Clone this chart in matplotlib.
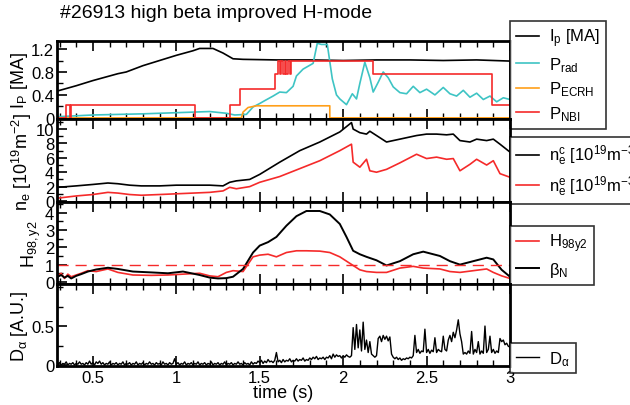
import matplotlib
matplotlib.use("Agg")
import matplotlib.pyplot as plt
import numpy as np
from matplotlib.ticker import MultipleLocator, FixedLocator

plt.rcParams['font.family'] = ['Liberation Sans', 'DejaVu Sans']
plt.rcParams['mathtext.fontset'] = 'custom'
plt.rcParams['mathtext.rm'] = 'Liberation Sans'
plt.rcParams['mathtext.it'] = 'Liberation Sans:italic'
plt.rcParams['mathtext.default'] = 'regular'

# --- plasma current and heating powers ---
t_ip = [0.29, 0.40, 0.50, 0.60, 0.65, 0.70, 0.80, 0.90, 1.00, 1.10, 1.14, 1.22, 1.28, 1.34,
        1.40, 1.60, 1.80, 2.00, 2.20, 2.40, 2.60, 2.80, 2.90, 3.00]
ip = [0.47, 0.56, 0.65, 0.73, 0.77, 0.80, 0.91, 1.00, 1.09, 1.17, 1.21, 1.21, 1.13, 1.03,
      1.02, 1.01, 1.01, 1.00, 1.01, 1.01, 1.00, 1.01, 1.00, 0.99]

t_prad = [0.29, 0.50, 0.80, 1.00, 1.20, 1.30, 1.35, 1.42, 1.46, 1.50, 1.53, 1.58, 1.62, 1.66,
          1.70, 1.72, 1.76, 1.79, 1.82, 1.845, 1.87, 1.905, 1.935, 1.96, 1.98, 2.02, 2.055,
          2.08, 2.10, 2.13, 2.16, 2.18, 2.21, 2.24, 2.27, 2.30, 2.34, 2.38, 2.42, 2.46, 2.50,
          2.55, 2.60, 2.64, 2.68, 2.72, 2.76, 2.80, 2.84, 2.88, 2.92, 2.96, 3.00]
prad = [0.02, 0.05, 0.07, 0.09, 0.11, 0.08, 0.05, 0.06, 0.19, 0.25, 0.30, 0.38, 0.45, 0.44,
        0.55, 0.73, 0.85, 0.90, 0.95, 1.30, 1.28, 1.28, 0.68, 0.40, 0.33, 0.23, 0.42, 0.33,
        0.60, 0.97, 0.70, 0.45, 0.62, 0.80, 0.70, 0.54, 0.44, 0.42, 0.55, 0.44, 0.50, 0.40,
        0.53, 0.42, 0.38, 0.48, 0.36, 0.43, 0.32, 0.38, 0.28, 0.35, 0.32]

t_ecrh = [0.29, 1.39, 1.40, 1.43, 1.48, 1.55, 1.92, 1.92, 3.00]
ecrh = [0.0, 0.0, 0.10, 0.18, 0.21, 0.21, 0.21, 0.0, 0.0]

t_nbi = [0.29, 0.34, 0.34, 0.36, 0.36, 0.37, 0.37, 1.11, 1.11, 1.32, 1.32, 1.38, 1.38, 1.59,
         1.59, 1.61, 1.61, 1.62, 1.62, 1.63, 1.63, 1.64, 1.64, 1.65, 1.65, 1.66, 1.66, 1.67,
         1.67, 1.68, 1.68, 1.69, 1.69, 1.70, 1.70, 2.18, 2.18, 2.89, 2.89, 3.00]
nbi = [0.0, 0.0, 0.22, 0.22, 0.0, 0.0, 0.22, 0.22, 0.0, 0.0, 0.22, 0.22, 0.50, 0.50,
       0.76, 0.76, 1.00, 1.00, 0.76, 0.76, 1.00, 1.00, 0.76, 0.76, 1.00, 1.00, 0.76, 0.76,
       1.00, 1.00, 0.76, 0.76, 1.00, 1.00, 1.00, 1.00, 0.76, 0.76, 0.22, 0.22]

# --- densities ---
t_ne = [0.29, 0.40, 0.50, 0.59, 0.65, 0.72, 0.79, 0.90, 1.00, 1.10, 1.20, 1.28, 1.32, 1.36,
        1.44, 1.50, 1.62, 1.74, 1.86, 1.98, 2.05, 2.06, 2.10, 2.14, 2.16, 2.20, 2.26, 2.34,
        2.44, 2.50, 2.56, 2.62, 2.66, 2.70, 2.76, 2.80, 2.86, 2.90, 2.94, 3.00]
ne_c = [1.9, 2.1, 2.3, 2.5, 2.4, 2.2, 2.1, 2.1, 2.2, 2.2, 2.2, 2.1, 2.6, 2.8,
        3.0, 3.7, 5.4, 7.0, 8.2, 9.6, 10.9, 10.0, 9.5, 9.3, 9.7, 9.1, 8.2, 8.6,
        9.1, 9.3, 9.3, 9.2, 9.3, 8.4, 8.2, 8.6, 8.4, 8.6, 7.9, 6.8]
ne_e = [0.4, 0.7, 0.9, 1.2, 1.1, 0.9, 0.8, 0.9, 1.0, 1.1, 1.2, 1.4, 1.9, 1.7,
        2.0, 2.6, 3.4, 4.5, 5.6, 7.0, 7.9, 5.4, 4.7, 5.8, 4.2, 4.0, 4.4, 5.3,
        6.5, 5.9, 6.1, 5.8, 5.9, 4.2, 5.1, 5.8, 5.0, 5.6, 3.8, 3.3]

# --- confinement ---
t_h = [0.29, 0.31, 0.33, 0.35, 0.37, 0.40, 0.43, 0.47, 0.52, 0.59, 0.65, 0.74, 0.85, 0.95,
       1.04, 1.14, 1.20, 1.25, 1.30, 1.34, 1.40, 1.46, 1.50, 1.55, 1.60, 1.66, 1.72, 1.78,
       1.86, 1.92, 1.98, 2.02, 2.06, 2.10, 2.14, 2.20, 2.26, 2.34, 2.42, 2.48, 2.58, 2.64,
       2.70, 2.78, 2.86, 2.90, 2.95, 3.00]
beta_n = [0.30, 0.40, 0.25, 0.35, 0.20, 0.35, 0.45, 0.60, 0.72, 0.82, 0.75, 0.60, 0.55, 0.50,
          0.60, 0.40, 0.25, 0.20, 0.22, 0.30, 0.75, 1.70, 2.10, 2.30, 2.60, 3.25, 3.80, 4.10,
          4.10, 3.90, 3.35, 2.60, 1.80, 1.60, 1.45, 1.25, 0.95, 1.20, 1.60, 1.75, 1.50, 1.20,
          1.00, 1.20, 1.40, 1.30, 0.70, 0.30]
h98 = [0.35, 0.50, 0.20, 0.45, 0.30, 0.40, 0.50, 0.65, 0.60, 0.75, 0.55, 0.40, 0.38, 0.40,
       0.45, 0.50, 0.35, 0.30, 0.55, 0.65, 0.60, 1.45, 1.55, 1.60, 1.45, 1.70, 1.80, 1.80,
       1.78, 1.70, 1.45, 1.20, 0.95, 0.70, 0.60, 0.55, 0.55, 0.80, 0.90, 0.80, 0.75, 0.60,
       0.55, 0.65, 0.75, 0.55, 0.35, 0.20]

# --- D-alpha, sampled every 10 ms from 0.29 s ---
d_alpha = [
    0.01, 0.03, 0.00, 0.02, 0.01, 0.04, 0.00, 0.02, 0.01, 0.03,
    0.00, 0.02, 0.01, 0.04, 0.01, 0.02, 0.00, 0.03, 0.01, 0.05,
    0.01, 0.03, 0.00, 0.04, 0.02, 0.05, 0.01, 0.03, 0.00, 0.02,
    0.01, 0.04, 0.00, 0.02, 0.01, 0.03, 0.00, 0.02, 0.01, 0.04,
    0.00, 0.02, 0.01, 0.03, 0.00, 0.02, 0.01, 0.04, 0.00, 0.02,
    0.01, 0.03, 0.00, 0.02, 0.01, 0.04, 0.01, 0.02, 0.00, 0.03,
    0.01, 0.02, 0.00, 0.04, 0.01, 0.02, 0.00, 0.03, 0.01, 0.02,
    0.08, 0.01, 0.03, 0.00, 0.02, 0.01, 0.04, 0.00, 0.02, 0.01,
    0.03, 0.00, 0.02, 0.01, 0.04, 0.00, 0.02, 0.01, 0.03, 0.00,
    0.02, 0.01, 0.04, 0.00, 0.02, 0.01, 0.03, 0.00, 0.02, 0.01,
    0.04, 0.00, 0.02, 0.01, 0.03, 0.00, 0.02, 0.01, 0.04, 0.01,
    0.02, 0.00, 0.03, 0.01, 0.02, 0.00, 0.04, 0.01, 0.03, 0.02,
    0.05, 0.03, 0.06, 0.02, 0.05, 0.03, 0.07, 0.04, 0.05, 0.03,
    0.06, 0.16, 0.04, 0.06, 0.03, 0.07, 0.04, 0.06, 0.05, 0.08,
    0.04, 0.06, 0.05, 0.08, 0.05, 0.07, 0.06, 0.09, 0.05, 0.07,
    0.06, 0.09, 0.07, 0.10, 0.08, 0.11, 0.07, 0.09, 0.08, 0.10,
    0.07, 0.10, 0.09, 0.12, 0.08, 0.14, 0.10, 0.13, 0.11, 0.12,
    0.09, 0.12, 0.10, 0.13, 0.11, 0.10, 0.12, 0.48, 0.20, 0.52,
    0.22, 0.45, 0.18, 0.55, 0.20, 0.32, 0.16, 0.30, 0.14, 0.12,
    0.10, 0.12, 0.34, 0.37, 0.30, 0.38, 0.33, 0.37, 0.31, 0.36,
    0.14, 0.10, 0.08, 0.10, 0.07, 0.09, 0.06, 0.08, 0.07, 0.09,
    0.08, 0.10, 0.09, 0.12, 0.38, 0.16, 0.20, 0.15, 0.18, 0.17,
    0.46, 0.16, 0.20, 0.15, 0.19, 0.17, 0.35, 0.16, 0.20, 0.18,
    0.17, 0.37, 0.20, 0.18, 0.32, 0.38, 0.30, 0.42, 0.35, 0.45,
    0.58, 0.40, 0.30, 0.14, 0.16, 0.14, 0.18, 0.15, 0.43, 0.14,
    0.20, 0.16, 0.30, 0.14, 0.18, 0.15, 0.50, 0.16, 0.20, 0.37,
    0.16, 0.20, 0.15, 0.18, 0.16, 0.34, 0.30, 0.32, 0.26, 0.28,
    0.24, 0.23]
t_da = 0.29 + 0.01 * np.arange(len(d_alpha))

RED = '#f52a2a'
CYAN = '#3ec4c4'
ORANGE = '#ff9f1a'

W, H = 630, 406
fig = plt.figure(figsize=(W / 100, H / 100), dpi=100)

left, right = 57, 510
rows = [(42, 120), (120, 203), (203, 285), (285, 367)]
axes = []
for top, bot in rows:
    ax = fig.add_axes([left / W, (H - bot) / H, (right - left) / W, (bot - top) / H])
    axes.append(ax)

for ax in axes:
    ax.set_xlim(0.285, 3.0)
    for s in ax.spines.values():
        s.set_linewidth(2.0)
    ax.xaxis.set_major_locator(MultipleLocator(0.5))
    ax.xaxis.set_minor_locator(MultipleLocator(0.1))
    ax.tick_params(axis='x', which='both', direction='in', top=True, bottom=True,
                   labelbottom=False)
    ax.tick_params(axis='both', which='major', length=7, width=1.2, labelsize=12)
    ax.tick_params(axis='both', which='minor', length=4, width=1.0)
    ax.tick_params(axis='y', which='both', direction='in', left=True, right=False, pad=2)

legend_kw = dict(loc='upper left', borderaxespad=0, frameon=True, fancybox=False,
                 edgecolor='black', fontsize=12, handlelength=1.4, handletextpad=0.6,
                 borderpad=0.35, labelspacing=0.35)

# panel 1: current and powers
ax = axes[0]
ax.plot(t_ip, ip, color='black', lw=1.2, label='I$_p$ [MA]')
ax.plot(t_prad, prad, color=CYAN, lw=1.2, label='P$_{rad}$')
ax.plot(t_ecrh, ecrh, color=ORANGE, lw=1.2, label='P$_{ECRH}$')
ax.plot(t_nbi, nbi, color=RED, lw=1.2, label='P$_{NBI}$')
ax.set_ylim(-0.02, 1.34)
ax.yaxis.set_major_locator(FixedLocator([0, 0.4, 0.8, 1.2]))
ax.yaxis.set_minor_locator(FixedLocator([0.2, 0.6, 1.0]))
ax.set_yticklabels(['0', '0.4', '0.8', '1.2'])
ax.set_ylabel('I$_P$ [MA]', fontsize=13, labelpad=1)
leg = ax.legend(bbox_to_anchor=(1.0, 1.26), **legend_kw)
leg.get_frame().set_linewidth(1.2)

# panel 2: densities
ax = axes[1]
ax.plot(t_ne, ne_c, color='black', lw=1.2, label='n$_e^c$ [10$^{19}$m$^{-3}$]')
ax.plot(t_ne, ne_e, color=RED, lw=1.2, label='n$_e^e$ [10$^{19}$m$^{-3}$]')
ax.set_ylim(-0.14, 11.4)
ax.yaxis.set_major_locator(MultipleLocator(2))
ax.yaxis.set_minor_locator(MultipleLocator(1))
ax.set_ylabel('n$_e$ [10$^{19}$m$^{-2}$]', fontsize=13, labelpad=1)
leg = ax.legend(bbox_to_anchor=(1.0, 0.78), **legend_kw)
leg.get_frame().set_linewidth(1.2)

# panel 3: H factor and beta_N
ax = axes[2]
ax.plot(t_h, h98, color=RED, lw=1.2, label='H$_{98y2}$')
ax.plot(t_h, beta_n, color='black', lw=1.4, label=r'$\beta_N$')
ax.axhline(1.0, color=RED, lw=1.0, ls=(0, (8, 5)))
ax.set_ylim(-0.12, 4.62)
ax.yaxis.set_major_locator(MultipleLocator(1))
ax.yaxis.set_minor_locator(MultipleLocator(0.5))
ax.set_ylabel('H$_{98,y2}$', fontsize=13, labelpad=1)
leg = ax.legend(bbox_to_anchor=(1.0, 0.71), **legend_kw)
leg.get_frame().set_linewidth(1.2)

# panel 4: D-alpha
ax = axes[3]
ax.plot(t_da, d_alpha, color='black', lw=1.0, label=r'D$_\alpha$')
ax.set_ylim(-0.013, 1.04)
ax.yaxis.set_major_locator(FixedLocator([0, 0.5]))
ax.yaxis.set_minor_locator(FixedLocator([0.25, 0.75, 1.0]))
ax.set_yticklabels(['0', '0.5'])
ax.set_ylabel(r'D$_\alpha$ [A.U.]', fontsize=13, labelpad=1)
ax.tick_params(axis='x', labelbottom=True, pad=3)
ax.set_xticks([0.5, 1, 1.5, 2, 2.5, 3])
ax.set_xticklabels(['0.5', '1', '1.5', '2', '2.5', '3'])
ax.set_xlabel('time (s)', fontsize=13, labelpad=-1)
leg = ax.legend(bbox_to_anchor=(1.0, 0.28), **legend_kw)
leg.get_frame().set_linewidth(1.2)

fig.text(60 / W, 1 - 14 / H, '#26913 high beta improved H-mode', fontsize=14,
         va='center', ha='left')

fig.savefig('out.png', dpi=100)
